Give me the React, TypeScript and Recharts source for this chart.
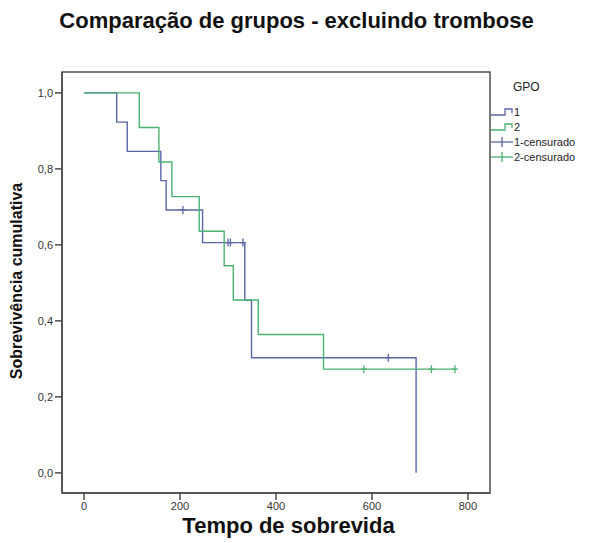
import React from 'react';
import { ComposedChart, Line, Scatter, XAxis, YAxis, ReferenceArea } from 'recharts';

// Kaplan-Meier steps (time, cumulative survival)
const grupo1Tempo = [0, 68, 90, 160, 171, 247, 335, 349, 692];
const grupo1Sobrev = [1, 0.923, 0.846, 0.769, 0.692, 0.606, 0.454, 0.303, 0];
const grupo2Tempo = [0, 115, 156, 183, 240, 292, 311, 363, 499, 773];
const grupo2Sobrev = [1, 0.909, 0.818, 0.727, 0.636, 0.545, 0.455, 0.364, 0.273, 0.273];

// censored observations
const censura1Tempo = [206, 300, 305, 331, 634];
const censura1Sobrev = [0.692, 0.606, 0.606, 0.606, 0.303];
const censura2Tempo = [583, 724, 773];
const censura2Sobrev = [0.273, 0.273, 0.273];

const xTicks = [0, 200, 400, 600, 800];
const yTicks = [0, 0.2, 0.4, 0.6, 0.8, 1];

const AZUL = '#5a66a6';
const VERDE = '#4cb272';
const FONT = '"Liberation Sans", Arial, sans-serif';

const toPoints = (t: number[], s: number[]) => t.map((v, i) => ({ t: v, s: s[i] }));

const g1 = toPoints(grupo1Tempo, grupo1Sobrev);
const g2 = toPoints(grupo2Tempo, grupo2Sobrev);
const c1 = toPoints(censura1Tempo, censura1Sobrev);
const c2 = toPoints(censura2Tempo, censura2Sobrev);

const cruz = (color: string) => (props: any) => {
  const { cx, cy } = props;
  return (
    <g>
      <line x1={cx} y1={cy - 4} x2={cx} y2={cy + 4} stroke={color} strokeWidth={1.3} />
      <line x1={cx - 3} y1={cy} x2={cx + 3} y2={cy} stroke={color} strokeWidth={1.3} />
    </g>
  );
};

const tickStyle = { fill: '#333', fontSize: 11, fontFamily: FONT };

const StepIcon = ({ color }: { color: string }) => (
  <svg width={22} height={10} style={{ display: 'block' }}>
    <polyline points="0,8 14,8 14,2 21,2 21,6" fill="none" stroke={color} strokeWidth={1.3} />
  </svg>
);

const CrossIcon = ({ color }: { color: string }) => (
  <svg width={22} height={10} style={{ display: 'block' }}>
    <line x1={0} y1={5} x2={22} y2={5} stroke={color} strokeWidth={1.3} />
    <line x1={11} y1={0} x2={11} y2={10} stroke={color} strokeWidth={1.3} />
  </svg>
);

const legendItems = [
  { label: '1', icon: <StepIcon color={AZUL} /> },
  { label: '2', icon: <StepIcon color={VERDE} /> },
  { label: '1-censurado', icon: <CrossIcon color={AZUL} /> },
  { label: '2-censurado', icon: <CrossIcon color={VERDE} /> },
];

export default function App() {
  return (
    <div style={{ position: 'absolute', left: 0, top: 0, width: 589, height: 543, background: '#fff', fontFamily: FONT }}>
      <div style={{ position: 'absolute', left: 0, width: 593, top: 8, textAlign: 'center', fontWeight: 'bold', fontSize: 22, color: '#111' }}>
        Comparação de grupos - excluindo trombose
      </div>
      <div
        style={{
          position: 'absolute', left: 17, top: 281, transform: 'translate(-50%, -50%) rotate(-90deg)',
          whiteSpace: 'nowrap', fontWeight: 'bold', fontSize: 16, color: '#111',
        }}
      >
        Sobrevivência cumulativa
      </div>
      <div style={{ position: 'absolute', left: 0, width: 577, top: 513, textAlign: 'center', fontWeight: 'bold', fontSize: 22, color: '#111' }}>
        Tempo de sobrevida
      </div>

      <div style={{ position: 'absolute', left: 491, top: 80, fontSize: 11, color: '#222' }}>
        <div style={{ marginLeft: 22, fontSize: 12, marginBottom: 10 }}>GPO</div>
        {legendItems.map((it) => (
          <div key={it.label} style={{ display: 'flex', alignItems: 'center', height: 15 }}>
            {it.icon}
            <span style={{ marginLeft: 1 }}>{it.label}</span>
          </div>
        ))}
      </div>

      <div style={{ position: 'absolute', left: 0, top: 0 }}>
        <ComposedChart width={589} height={543} margin={{ top: 72, right: 99, left: 0, bottom: 0 }}>
          <XAxis
            dataKey="t"
            type="number"
            domain={[-46, 846]}
            allowDataOverflow
            ticks={xTicks}
            height={50}
            tick={tickStyle}
            tickSize={7}
            axisLine={{ stroke: '#4d4d4d', strokeWidth: 1.5 }}
            tickLine={{ stroke: '#4d4d4d', strokeWidth: 1.5 }}
          />
          <YAxis
            type="number"
            domain={[-0.053, 1.055]}
            allowDataOverflow
            ticks={yTicks}
            width={62}
            tick={tickStyle}
            tickSize={7}
            tickFormatter={(v: number) => v.toFixed(1).replace('.', ',')}
            axisLine={{ stroke: '#4d4d4d', strokeWidth: 1.5 }}
            tickLine={{ stroke: '#4d4d4d', strokeWidth: 1.5 }}
          />
          <ReferenceArea x1={-46} x2={846} y1={-0.053} y2={1.055} fill="none" stroke="#4d4d4d" strokeWidth={1.5} ifOverflow="visible" />
          <Line data={g1} dataKey="s" type="stepAfter" stroke={AZUL} strokeWidth={1.4} dot={false} isAnimationActive={false} />
          <Line data={g2} dataKey="s" type="stepAfter" stroke={VERDE} strokeWidth={1.4} dot={false} isAnimationActive={false} />
          <Scatter data={c1} dataKey="s" shape={cruz(AZUL)} isAnimationActive={false} />
          <Scatter data={c2} dataKey="s" shape={cruz(VERDE)} isAnimationActive={false} />
        </ComposedChart>
      </div>
    </div>
  );
}
